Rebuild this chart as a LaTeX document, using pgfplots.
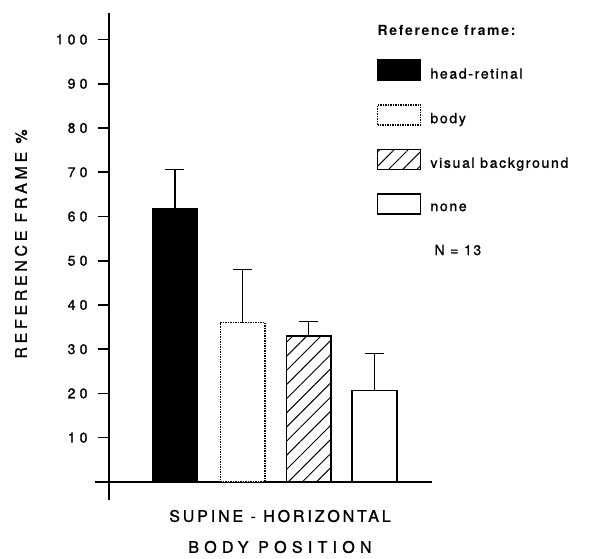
\documentclass[border=0pt]{standalone}
\usepackage{fontspec}
\setmainfont{TeX Gyre Heros}[LetterSpace=12, FakeBold=1.2]
\newfontfamily\tickfont{TeX Gyre Heros}[LetterSpace=30, FakeBold=1.2]
\newfontfamily\xlabA{TeX Gyre Heros}[LetterSpace=18, FakeBold=1.2]
\newfontfamily\xlabB{TeX Gyre Heros}[LetterSpace=33, FakeBold=1.2]
\newfontfamily\ylabfont{TeX Gyre Heros}[LetterSpace=23, FakeBold=1.2]
\newfontfamily\titlefont{TeX Gyre Heros Bold}[LetterSpace=12]
\usepackage{pgfplots}
\pgfplotsset{compat=1.18}
\usetikzlibrary{patterns.meta}

\begin{document}
\begin{tikzpicture}
\path[use as bounding box] (0,0) rectangle (589pt,-558pt);
\begin{axis}[
  at={(109pt,-500pt)}, anchor=south west,
  scale only axis, width=323pt, height=487pt,
  xmin=0, xmax=4.9, ymin=-4.1, ymax=106,
  axis x line=middle, axis y line=left,
  axis line style={-, line width=1.3pt},
  x axis line style={shorten <=-14pt},
  xtick=\empty, ytick={10,20,...,100},
  ytick pos=left, ytick align=outside, tickwidth=11pt,
  every tick/.style={draw=black, solid, line width=1.6pt},
  yticklabel style={font=\tickfont\fontsize{14}{14}\selectfont, xshift=-7pt},
  /pgf/number format/assume math mode=true,
  clip=false,
  ybar,
  every axis plot/.append style={bar shift=0pt, bar width=0.68, line width=1.5pt,
    legend image code/.code={\draw[##1, line width=1.5pt] (0pt,-6pt) rectangle (43pt,14pt);}},
  legend style={at={(rel axis cs:0.829,0.905)}, anchor=north west, draw=none, fill=none,
    inner sep=0pt, nodes={inner sep=2pt}, column sep=7pt, row sep=22pt,
    font=\fontsize{14}{14}\selectfont},
  legend cell align=left,
]
% head-retinal
\addplot[fill=black, draw=black,
  error bars/.cd, y dir=plus, y explicit,
  error bar style={line width=1.3pt, solid},
  error mark options={line width=1.3pt, mark size=9.5pt, solid, rotate=90}]
  coordinates {(1,61.8) +- (0,8.8)};
\addlegendentry{head-retinal}
% body
\addplot[fill=white, draw=black, densely dotted,
  error bars/.cd, y dir=plus, y explicit,
  error bar style={line width=1.3pt, solid},
  error mark options={line width=1.3pt, mark size=9.5pt, solid, rotate=90}]
  coordinates {(2.03,36.0) +- (0,12.0)};
\addlegendentry{body}
% visual background
\addplot[fill=white, draw=black,
  postaction={pattern={Lines[angle=45, distance=10pt, line width=1pt]}},
  error bars/.cd, y dir=plus, y explicit,
  error bar style={line width=1.3pt, solid},
  error mark options={line width=1.3pt, mark size=9.5pt, solid, rotate=90}]
  coordinates {(3.03,33.0) +- (0,3.3)};
\addlegendentry{visual background}
% none
\addplot[fill=white, draw=black,
  error bars/.cd, y dir=plus, y explicit,
  error bar style={line width=1.3pt, solid},
  error mark options={line width=1.3pt, mark size=9.5pt, solid, rotate=90}]
  coordinates {(4.03,20.7) +- (0,8.3)};
\addlegendentry{none}
\end{axis}

\node[anchor=west, font=\titlefont\fontsize{14}{14}\selectfont] at (374pt,-30pt) {Reference frame:};
\node[anchor=west, font=\fontsize{14}{14}\selectfont] at (431pt,-250pt) {N = 13};
\node[font=\xlabA\fontsize{16}{16}\selectfont] at (280pt,-516pt) {SUPINE - HORIZONTAL};
\node[font=\xlabB\fontsize{16}{16}\selectfont] at (280pt,-547pt) {BODY POSITION};
\node[rotate=90, font=\ylabfont\fontsize{16}{16}\selectfont] at (21pt,-244pt) {REFERENCE FRAME \%};
\end{tikzpicture}
\end{document}
